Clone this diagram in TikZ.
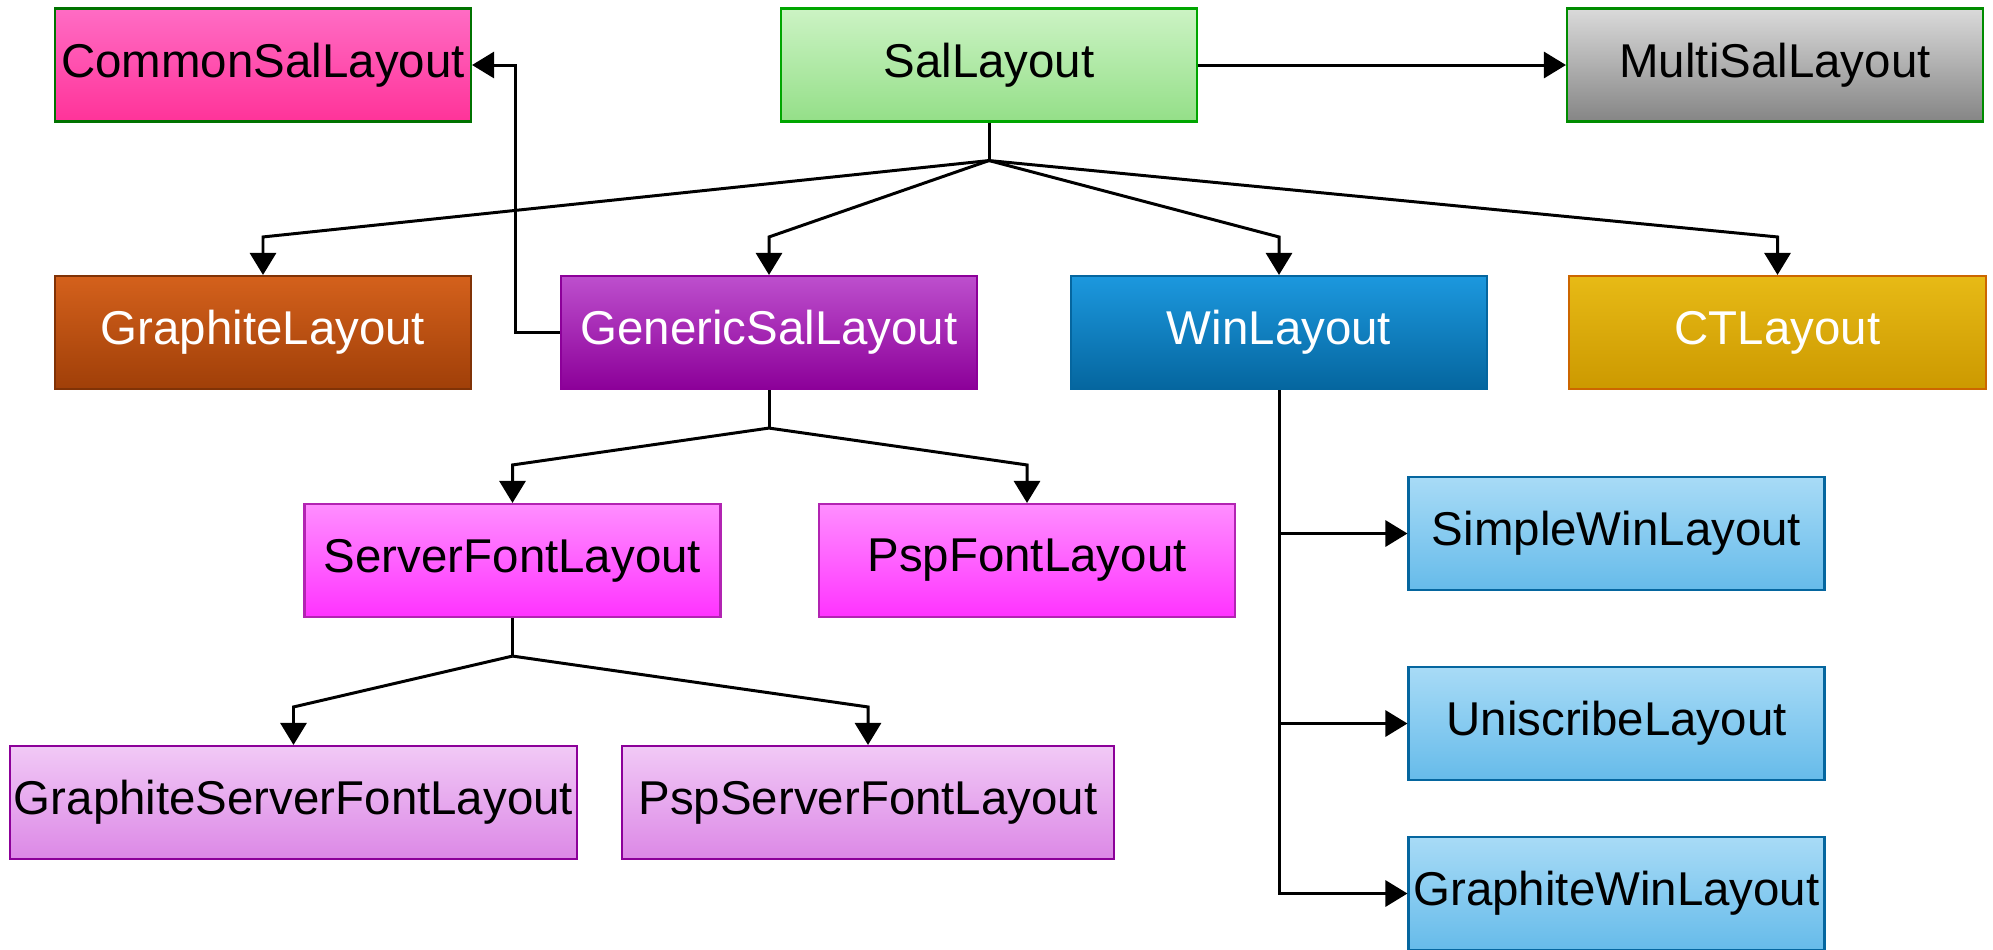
\documentclass[tikz,border=0pt]{standalone}
\usepackage{fontspec}
\setmainfont{Liberation Sans}
\usetikzlibrary{arrows.meta}
\definecolor{pinkT}{HTML}{FF6CC4}
\definecolor{pinkB}{HTML}{FF3399}
\definecolor{greenT}{HTML}{CCF3C4}
\definecolor{greenB}{HTML}{94DF88}
\definecolor{greyT}{HTML}{DADADA}
\definecolor{greyB}{HTML}{858585}
\definecolor{rustT}{HTML}{D4611C}
\definecolor{rustB}{HTML}{A03F08}
\definecolor{violetT}{HTML}{BD4FCD}
\definecolor{violetB}{HTML}{8C0099}
\definecolor{winT}{HTML}{1C98DE}
\definecolor{winB}{HTML}{05669F}
\definecolor{goldT}{HTML}{E7BA16}
\definecolor{goldB}{HTML}{CC9900}
\definecolor{magT}{HTML}{FF8EFF}
\definecolor{magB}{HTML}{FF33FF}
\definecolor{skyT}{HTML}{A8DBF6}
\definecolor{skyB}{HTML}{66BBEA}
\definecolor{lilacT}{HTML}{F1C9F6}
\definecolor{lilacB}{HTML}{DC88E6}

\begin{document}
\begin{tikzpicture}[every node/.style={font=\fontsize{13.5}{16}\selectfont}, >={Triangle[length=2.2mm, width=2.6mm]}, line width=0.85pt,
  cls/.style={minimum width=4.16cm, minimum height=1.13cm, inner sep=0pt, line width=0.6pt},
  pinkcls/.style={cls, top color=pinkT, bottom color=pinkB, draw=green!45!black},
  greencls/.style={cls, top color=greenT, bottom color=greenB, draw=green!65!black},
  greycls/.style={cls, top color=greyT, bottom color=greyB, draw=green!55!black},
  rustcls/.style={cls, top color=rustT, bottom color=rustB, draw=rustB!80!black, text=white},
  violetcls/.style={cls, top color=violetT, bottom color=violetB, draw=violetB, text=white},
  wincls/.style={cls, top color=winT, bottom color=winB, draw=winB, text=white},
  goldcls/.style={cls, top color=goldT, bottom color=goldB, draw=orange!80!black, text=white},
  magcls/.style={cls, top color=magT, bottom color=magB, draw=magB!70!black},
  skycls/.style={cls, top color=skyT, bottom color=skyB, draw=winB},
  lilaccls/.style={cls, top color=lilacT, bottom color=lilacB, draw=violetB}]
	\useasboundingbox (0,0) rectangle (19.93,-9.49);
	\node[pinkcls] (common) at (2.63,-0.65) {CommonSalLayout};
	\node[greencls] (sal) at (9.89,-0.65) {SalLayout};
	\node[greycls] (multi) at (17.75,-0.65) {MultiSalLayout};
	\node[rustcls] (graphite) at (2.63,-3.325) {GraphiteLayout};
	\node[violetcls] (generic) at (7.69,-3.325) {GenericSalLayout};
	\node[wincls] (win) at (12.79,-3.325) {WinLayout};
	\node[goldcls, minimum width=4.17cm] (ct) at (17.775,-3.325) {CTLayout};
	\node[magcls] (server) at (5.125,-5.605) {ServerFontLayout};
	\node[magcls] (pspfont) at (10.27,-5.605) {PspFontLayout};
	\node[skycls] (simple) at (16.165,-5.335) {SimpleWinLayout};
	\node[skycls] (uniscribe) at (16.165,-7.235) {UniscribeLayout};
	\node[skycls] (gwin) at (16.165,-8.935) {GraphiteWinLayout};
	\node[lilaccls, minimum width=5.67cm] (gserver) at (2.935,-8.025) {GraphiteServerFontLayout};
	\node[lilaccls, minimum width=4.92cm] (pspserver) at (8.68,-8.025) {PspServerFontLayout};
	\draw[->] (sal) -- (multi);
	\draw[->] (generic.west) -- ++(-0.44,0) |- (common);
	\coordinate (salj) at ([yshift=-3.8mm]sal.south);
	\coordinate (genj) at ([yshift=-3.8mm]generic.south);
	\coordinate (serj) at ([yshift=-3.8mm]server.south);
	\draw (sal) -- (salj);
	\draw[->] (salj) -- ([yshift=3.8mm]graphite.north) -- (graphite);
	\draw[->] (salj) -- ([yshift=3.8mm]generic.north) -- (generic);
	\draw[->] (salj) -- ([yshift=3.8mm]win.north) -- (win);
	\draw[->] (salj) -- ([yshift=3.8mm]ct.north) -- (ct);
	\draw (generic) -- (genj);
	\draw[->] (genj) -- ([yshift=3.8mm]server.north) -- (server);
	\draw[->] (genj) -- ([yshift=3.8mm]pspfont.north) -- (pspfont);
	\draw (server) -- (serj);
	\draw[->] (serj) -- ([yshift=3.8mm]gserver.north) -- (gserver);
	\draw[->] (serj) -- ([yshift=3.8mm]pspserver.north) -- (pspserver);
	\draw[->] (win) |- (gwin);
	\draw[->] (win |- simple) -- (simple);
	\draw[->] (win |- uniscribe) -- (uniscribe);
\end{tikzpicture}
\end{document}
